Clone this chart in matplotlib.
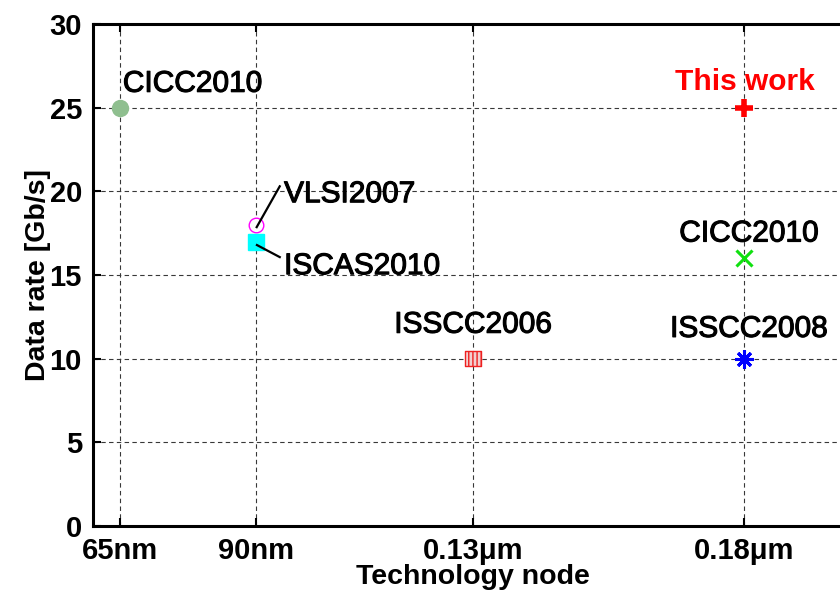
import matplotlib
matplotlib.use("Agg")
import matplotlib.pyplot as plt
from matplotlib import patheffects as pe

plt.rcParams['font.family'] = ['Liberation Sans', 'DejaVu Sans']

# ---- data ----
node_ticks = [65, 90, 130, 180]
node_tick_labels = ['65nm', '90nm', '0.13\u03bcm', '0.18\u03bcm']

labels = ['CICC2010', 'VLSI2007', 'ISCAS2010', 'ISSCC2006', 'This work', 'CICC2010', 'ISSCC2008']
nodes = [65, 90, 90, 130, 180, 180, 180]
rates = [25, 18, 17, 10, 25, 16, 10]

# label anchor positions (data coords)
label_x = [65.5, 95.2, 95.2, 130, 180, 180.8, 180.8]
label_y = [25.95, 19.35, 15.05, 11.55, 26.05, 17.0, 11.3]
label_ha = ['left', 'left', 'left', 'center', 'center', 'center', 'center']

fig = plt.figure(figsize=(8.4, 5.91), dpi=100)
ax = fig.add_axes([93/840, 1-526/591, (853-93)/840, (526-24)/591])
ax.set_xlim(60, 200)
ax.set_ylim(0, 30)

ax.grid(True, color='#383838', linestyle=(0, (4, 3)), linewidth=0.8)
ax.set_axisbelow(True)

# markers
ax.plot(nodes[0], rates[0], 'o', ms=11.5, color='#8fbf8f', mec='#8fbf8f', clip_on=False, zorder=3)
ax.plot(nodes[1], rates[1], 'o', ms=10.5, mfc='white', mec='#ff00ff', mew=1.0, zorder=3)
ax.plot(nodes[2], rates[2], 's', ms=11, color='#00ffff', zorder=3)
plt.rcParams['hatch.linewidth'] = 1.0
ax.scatter([nodes[3]], [rates[3]], marker='s', s=11**2, facecolor='#f2cfcf',
           edgecolor='#ee2020', hatch='||||', linewidths=1.0, zorder=3)
ax.plot(nodes[4], rates[4], '+', ms=13, color='red', mew=4, zorder=3)
ax.plot(nodes[5], rates[5], 'x', ms=11.5, color='#10e010', mew=2.2, zorder=3)
ax.plot(nodes[6], rates[6], marker=(8, 2, 0), ms=13, color='#0000ff', mew=2.2,
        linestyle='none', zorder=3)

# leader lines
ax.plot([90.15, 94.4], [17.86, 20.3], color='black', lw=1.6, zorder=4)
ax.plot([90.2, 94.4], [16.79, 16.07], color='black', lw=1.6, zorder=4)

fs = 21.5
for i, t in enumerate(labels):
    if t == 'This work':
        ax.text(label_x[i], label_y[i], t, ha=label_ha[i], va='baseline',
                fontsize=fs, color='red', fontweight='bold')
    else:
        ax.text(label_x[i], label_y[i], t, ha=label_ha[i], va='baseline',
                fontsize=fs, color='black',
                path_effects=[pe.withStroke(linewidth=0.8, foreground='black')])

ax.set_xticks(node_ticks)
ax.set_xticklabels(node_tick_labels)
ax.set_yticks(range(0, 31, 5))
ax.tick_params(direction='in', length=6, width=1.5, labelsize=21, top=True, right=True,
               pad=8)
for lab in ax.get_xticklabels() + ax.get_yticklabels():
    lab.set_fontweight('bold')
for s in ax.spines.values():
    s.set_linewidth(2.2)

ax.set_xlabel('Technology node', fontsize=20.5, fontweight='bold', labelpad=-1)
ax.set_ylabel('Data rate [Gb/s]', fontsize=20.5, fontweight='bold', labelpad=-1)

fig.savefig('out.png', dpi=100)
